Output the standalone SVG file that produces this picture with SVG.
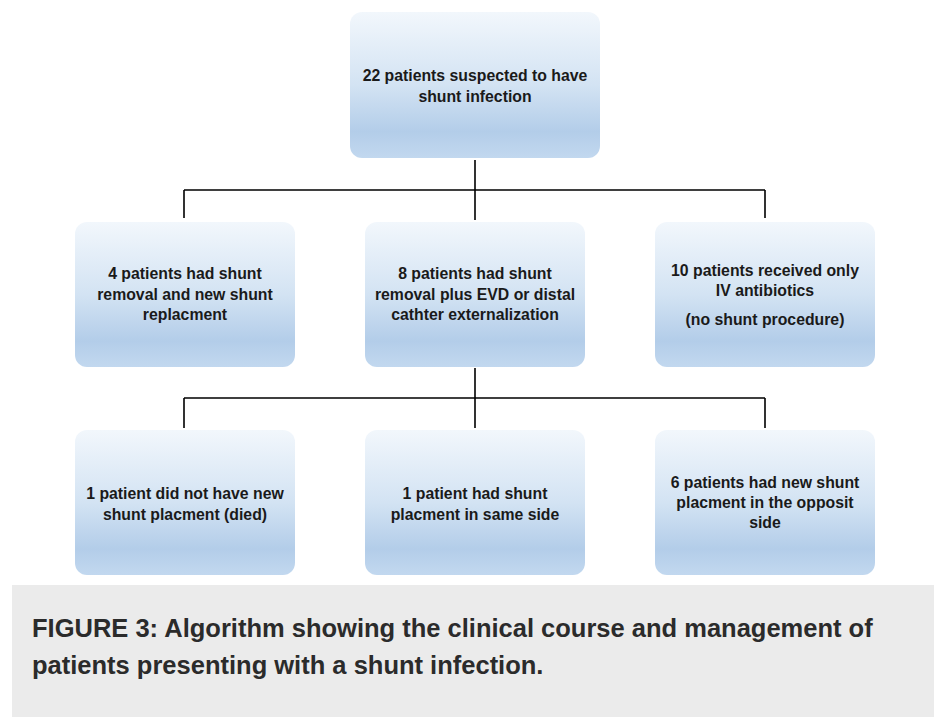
<svg xmlns="http://www.w3.org/2000/svg" width="934" height="717" viewBox="0 0 934 717">
<defs>
<linearGradient id="g" x1="0" y1="0" x2="0" y2="1">
<stop offset="0" stop-color="#f2f7fc"/>
<stop offset="0.5" stop-color="#d3e3f3"/>
<stop offset="0.82" stop-color="#b3cde9"/>
<stop offset="1" stop-color="#c2d8ef"/>
</linearGradient>
<style>
.box{fill:url(#g);}
.t{font-family:"Liberation Sans",Arial,sans-serif;font-weight:bold;font-size:15.8px;fill:#1a1a1a;text-anchor:middle;}
.c{stroke:#000;stroke-width:1.6;fill:none;}
.cap{font-family:"Liberation Sans",Arial,sans-serif;font-weight:bold;font-size:25.5px;fill:#2b2b2b;}
</style>
</defs>
<rect width="934" height="717" fill="#fff"/>
<g id="connectors">
<path class="c" d="M475 160V220M184 190H765M184 190V218M765 190V218"/>
<path class="c" d="M475 368V428M184 398H765M184 398V428M765 398V428"/>
</g>
<g id="n1"><rect class="box" x="350" y="12" width="250" height="146" rx="12"/>
<text class="t" x="475" y="81">22 patients suspected to have</text><text class="t" x="475" y="102">shunt infection</text></g>
<g id="n2"><rect class="box" x="75" y="222" width="220" height="145" rx="12"/>
<text class="t" x="185" y="279">4 patients had shunt</text><text class="t" x="185" y="300">removal and new shunt</text><text class="t" x="185" y="320">replacment</text></g>
<g id="n3"><rect class="box" x="365" y="222" width="220" height="145" rx="12"/>
<text class="t" x="475" y="279">8 patients had shunt</text><text class="t" x="475" y="300">removal plus EVD or distal</text><text class="t" x="475" y="320">cathter externalization</text></g>
<g id="n4"><rect class="box" x="655" y="222" width="220" height="145" rx="12"/>
<text class="t" x="765" y="276">10 patients received only</text><text class="t" x="765" y="296">IV antibiotics</text><text class="t" x="765" y="325">(no shunt procedure)</text></g>
<g id="n5"><rect class="box" x="75" y="430" width="220" height="145" rx="12"/>
<text class="t" x="185" y="499">1 patient did not have new</text><text class="t" x="185" y="520">shunt placment (died)</text></g>
<g id="n6"><rect class="box" x="365" y="430" width="220" height="145" rx="12"/>
<text class="t" x="475" y="499">1 patient had shunt</text><text class="t" x="475" y="520">placment in same side</text></g>
<g id="n7"><rect class="box" x="655" y="430" width="220" height="145" rx="12"/>
<text class="t" x="765" y="488">6 patients had new shunt</text><text class="t" x="765" y="508">placment in the opposit</text><text class="t" x="765" y="528">side</text></g>
<rect x="12" y="585" width="922" height="132" fill="#ebebeb"/>
<text class="cap" x="32" y="637">FIGURE 3: Algorithm showing the clinical course and management of</text>
<text class="cap" x="32" y="674">patients presenting with a shunt infection.</text>
</svg>
